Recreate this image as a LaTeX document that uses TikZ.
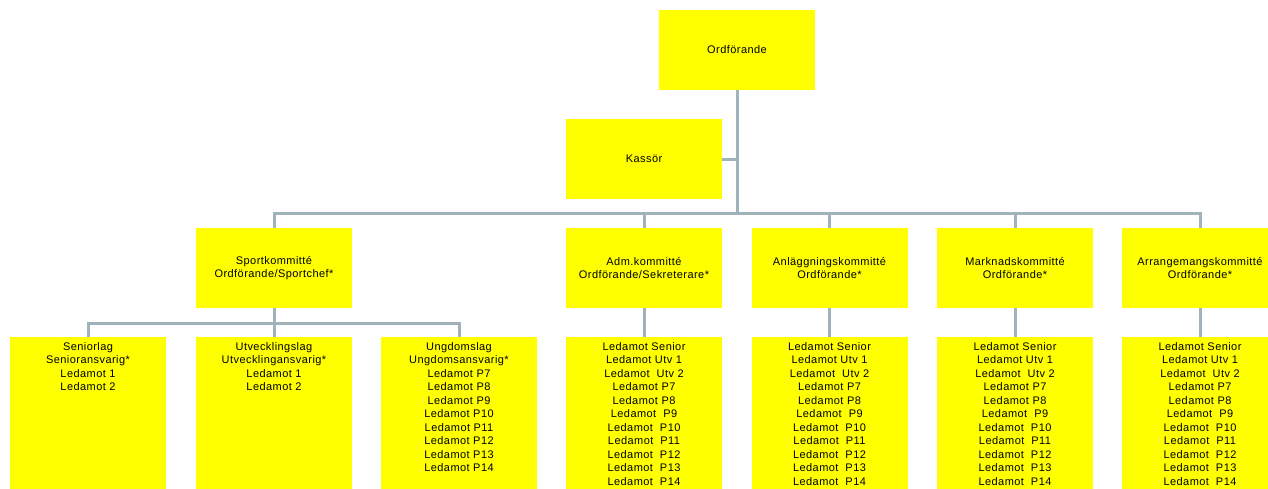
\documentclass[tikz,border=0pt]{standalone}
\usepackage{fontspec}
\setmainfont[LetterSpace=4]{Liberation Sans}
\definecolor{boxyellow}{HTML}{FFFF00}
\definecolor{conn}{HTML}{A0B3BB}
\newcommand{\memberlist}[1]{\parbox[t][160pt][t]{156pt}{\centering\rule{0pt}{13pt}#1}}
\begin{document}
\begin{tikzpicture}[x=1pt,y=-1pt,
  box/.style={fill=boxyellow, draw=none, minimum width=156pt, minimum height=80pt,
    inner sep=0pt, align=center, text width=156pt,
    font=\fontsize{11}{13.5}\selectfont},
  member/.style={fill=boxyellow, draw=none, inner sep=0pt, anchor=north,
    font=\fontsize{11}{13.5}\selectfont},
  link/.style={draw=conn, line width=3pt},
  buslink/.style={link, line cap=rect}]
\useasboundingbox (0,0) rectangle (1268,488);
\clip (0,0) rectangle (1268,488);
\fill[white] (0,0) rectangle (1268,488);

\coordinate (bus) at (737,213);
\coordinate (sbus) at (274,323);

% top level
\node[box] (ord) at (737,50) {Ordförande};
\node[box] (kas) at (644,159) {Kassör};

% level 2
\node[box] (sport) at (274,268) {Sportkommitté\\Ordförande/Sportchef*};
\node[box] (adm) at (644,268) {Adm.kommitté\\Ordförande/Sekreterare*};
\node[box] (anl) at (829.5,268) {Anläggningskommitté\\Ordförande*};
\node[box] (mark) at (1015,268) {Marknadskommitté\\Ordförande*};
\node[box] (arr) at (1200,268) {Arrangemangskommitté\\Ordförande*};

% level 3
\node[member] (senior) at (88,337) {\memberlist{Seniorlag\\Senioransvarig*\\Ledamot 1\\Ledamot 2}};
\node[member] (utv) at (274,337) {\memberlist{Utvecklingslag\\Utvecklingansvarig*\\Ledamot 1\\Ledamot 2}};
\node[member] (ung) at (459,337) {\memberlist{Ungdomslag\\Ungdomsansvarig*\\Ledamot P7\\Ledamot P8\\Ledamot P9\\Ledamot P10\\Ledamot P11\\Ledamot P12\\Ledamot P13\\Ledamot P14}};
\node[member] (admL) at (644,337) {\memberlist{Ledamot Senior\\Ledamot Utv 1\\Ledamot\ \ Utv 2\\Ledamot P7\\Ledamot P8\\Ledamot\ \ P9\\Ledamot\ \ P10\\Ledamot\ \ P11\\Ledamot\ \ P12\\Ledamot\ \ P13\\Ledamot\ \ P14}};
\node[member] (anlL) at (829.5,337) {\memberlist{Ledamot Senior\\Ledamot Utv 1\\Ledamot\ \ Utv 2\\Ledamot P7\\Ledamot P8\\Ledamot\ \ P9\\Ledamot\ \ P10\\Ledamot\ \ P11\\Ledamot\ \ P12\\Ledamot\ \ P13\\Ledamot\ \ P14}};
\node[member] (markL) at (1015,337) {\memberlist{Ledamot Senior\\Ledamot Utv 1\\Ledamot\ \ Utv 2\\Ledamot P7\\Ledamot P8\\Ledamot\ \ P9\\Ledamot\ \ P10\\Ledamot\ \ P11\\Ledamot\ \ P12\\Ledamot\ \ P13\\Ledamot\ \ P14}};
\node[member] (arrL) at (1200,337) {\memberlist{Ledamot Senior\\Ledamot Utv 1\\Ledamot\ \ Utv 2\\Ledamot P7\\Ledamot P8\\Ledamot\ \ P9\\Ledamot\ \ P10\\Ledamot\ \ P11\\Ledamot\ \ P12\\Ledamot\ \ P13\\Ledamot\ \ P14}};

% connectors
\draw[link] (ord.south) -- (ord.south |- bus);
\draw[link] (kas.east) -- (kas.east -| ord.south);
\draw[buslink] (sport.north |- bus) -- (arr.north |- bus);
\foreach \n in {sport,adm,anl,mark,arr} \draw[link] (\n.north) -- (\n.north |- bus);
\draw[link] (sport.south) -- (sport.south |- sbus);
\draw[buslink] (senior.north |- sbus) -- (ung.north |- sbus);
\foreach \n in {senior,utv,ung} \draw[link] (\n.north) -- (\n.north |- sbus);
\draw[link] (adm.south) -- (admL.north);
\draw[link] (anl.south) -- (anlL.north);
\draw[link] (mark.south) -- (markL.north);
\draw[link] (arr.south) -- (arrL.north);
\end{tikzpicture}
\end{document}
